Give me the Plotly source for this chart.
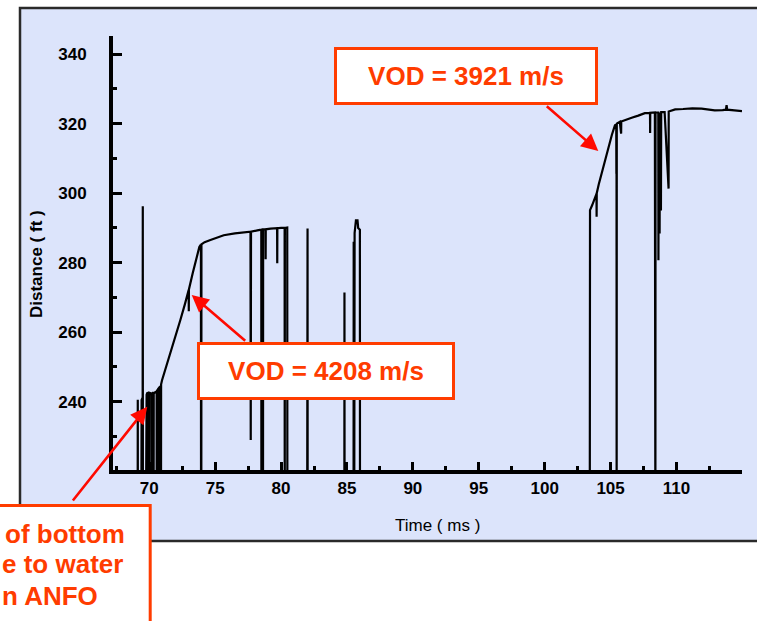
import plotly.graph_objects as go

# ---------------- data ----------------
BOT = 200.0  # signal dropout (below the visible range)

time_ms = [
    68.90, 69.12, 69.13, 69.14,
    69.40, 69.42, 69.50, 69.51, 69.52,
    69.74, 69.75, 69.80, 69.86, 69.87, 69.88, 69.95, 70.01, 70.02, 70.03,
    70.10, 70.20, 70.21, 70.22, 70.32, 70.33, 70.34, 70.45, 70.56, 70.57,
    70.58, 70.70, 70.71, 70.72, 70.81, 70.82, 70.83, 70.88, 70.89, 70.90,
    70.97, 71.20, 71.50, 71.85, 72.10, 72.36, 72.70, 72.99, 73.00, 73.01,
    73.30, 73.63, 73.80, 73.88, 73.92, 73.93, 73.95, 73.96,
    74.20, 74.64, 75.20, 75.65, 76.50, 77.20, 77.68, 77.70, 77.72,
    78.20, 78.50, 78.51, 78.55, 78.56, 78.62, 78.63, 78.64,
    78.82, 78.83, 78.84, 79.20, 79.70, 79.71, 79.72, 80.00,
    80.27, 80.28, 80.29, 80.47, 80.48,
    81.98, 81.99, 82.01, 82.02,
    84.80, 84.81, 84.82,
    85.50, 85.51, 85.52, 85.55, 85.58, 85.68, 85.80, 85.85, 85.98, 85.99,
    103.42, 103.44, 103.60, 103.82, 103.93, 103.94, 103.95,
    104.10, 104.32, 104.60, 104.83, 105.10, 105.33,
    105.43, 105.44, 105.45, 105.46, 105.47, 105.70, 105.80, 105.81,
    106.20, 106.60, 107.10, 107.60, 107.99, 108.00, 108.01,
    108.36, 108.37, 108.40, 108.41, 108.62, 108.63, 108.65, 108.72, 108.74,
    108.82, 108.84, 109.10, 109.40, 109.41, 109.90, 110.50, 111.20,
    111.90, 112.40, 112.90, 113.50, 113.75, 113.80, 113.85, 114.40, 114.97,
]

distance_ft = [
    BOT, BOT, 240.6, BOT,
    BOT, 240.5, 241.2, 296.2, BOT,
    BOT, 241.5, 242.0, 242.6, BOT, 242.7, 242.5, 242.8, BOT, 242.6,
    242.2, 242.4, BOT, 242.3, 242.5, BOT, 242.4, 242.7, 243.0, BOT,
    243.1, 243.8, BOT, 243.9, 244.3, BOT, 244.2, 244.6, BOT, 245.0,
    246.2, 249.0, 252.5, 256.8, 260.0, 263.5, 268.0, 272.1, 266.0, 272.3,
    277.0, 282.6, 284.5, 285.0, 285.0, BOT, BOT, 285.3,
    285.9, 286.5, 287.3, 287.9, 288.4, 288.7, 288.9, 229.0, 288.9,
    289.3, 289.5, BOT, BOT, 289.5, 289.5, BOT, 289.6,
    289.6, 281.0, 289.6, 289.8, 289.9, 279.8, 289.9, 290.0,
    290.0, BOT, 290.0, 290.1, BOT,
    BOT, 289.8, 289.8, BOT,
    BOT, 271.4, BOT,
    BOT, 286.0, BOT, BOT, 288.5, 292.2, 292.2, 290.0, 289.5, BOT,
    BOT, 295.1, 296.5, 298.9, 299.8, 293.2, 300.0,
    302.5, 305.6, 309.5, 313.3, 316.8, 319.5,
    319.7, 305.6, 319.8, BOT, 320.0, 320.5, 317.1, 320.6,
    321.2, 321.7, 322.3, 323.0, 323.1, 317.3, 323.1,
    323.2, BOT, BOT, 323.2, 323.2, 280.7, 323.2, 288.4, 323.2,
    295.0, 323.3, 323.3, 301.3, 323.5, 324.1, 324.2, 324.4,
    324.3, 324.0, 323.8, 323.9, 324.0, 325.3, 324.0, 323.8, 323.6,
]

x_tick_vals = [70, 75, 80, 85, 90, 95, 100, 105, 110]
y_tick_vals = [240, 260, 280, 300, 320, 340]
x_range = [67.25, 114.97]
y_range = [220.36, 345.2]

vod_labels = ["VOD = 3921 m/s", "VOD = 4208 m/s"]
note_lines = ["of bottom", "e to water", "n ANFO"]

# ---------------- layout helpers (pixel -> paper) ----------------
W, H = 757, 621
L, R, T, B = 113, 15, 36, 151
PW, PH = W - L - R, H - T - B


def px(xp):
    return (xp - L) / PW


def py(yp):
    return (T + PH - yp) / PH


FONT = "Liberation Sans, Arial, sans-serif"
ORANGE = "#FF3C00"
RED = "#FF0A00"
PANEL = "#DCE4FB"

fig = go.Figure()
fig.add_trace(go.Scatter(
    x=time_ms, y=distance_ft, mode="lines",
    line=dict(color="black", width=2.2),
    hoverinfo="skip", showlegend=False,
))

shapes = [
    # light-blue panel with dark frame
    dict(type="rect", xref="paper", yref="paper", layer="below",
         x0=px(20), x1=px(800), y0=py(541), y1=py(8),
         fillcolor=PANEL, line=dict(color="#2a2a2a", width=2.5)),
    # bottom-left callout box (partly outside the picture)
    dict(type="rect", xref="paper", yref="paper", layer="above",
         x0=px(-60), x1=px(150.2), y0=py(700), y1=py(505.5),
         fillcolor="white", line=dict(color=ORANGE, width=3)),
]

annotations = [
    # arrows
    dict(xref="paper", yref="paper", x=px(598.3), y=py(151), ax=-53, ay=-46,
         text="", showarrow=True, arrowhead=2, arrowsize=1.3, arrowwidth=2.6,
         arrowcolor=RED, standoff=0),
    dict(xref="paper", yref="paper", x=px(191.7), y=py(295), ax=55, ay=47,
         text="", showarrow=True, arrowhead=2, arrowsize=1.3, arrowwidth=2.6,
         arrowcolor=RED, standoff=0),
    dict(xref="paper", yref="paper", x=px(147.3), y=py(406.7), ax=-75.6, ay=95.3,
         text="", showarrow=True, arrowhead=2, arrowsize=1.3, arrowwidth=2.6,
         arrowcolor=RED, standoff=0),
    # boxes
    dict(xref="paper", yref="paper", x=px(465.5), y=py(76.2),
         xanchor="center", yanchor="middle", text=vod_labels[0], showarrow=False,
         font=dict(family=FONT, size=26, color=ORANGE, weight="bold"),
         bgcolor="white", bordercolor=ORANGE, borderwidth=3, borderpad=0,
         width=258, height=52),
    dict(xref="paper", yref="paper", x=px(326.3), y=py(370.5),
         xanchor="center", yanchor="middle", text=vod_labels[1], showarrow=False,
         font=dict(family=FONT, size=26, color=ORANGE, weight="bold"),
         bgcolor="white", bordercolor=ORANGE, borderwidth=3, borderpad=0,
         width=252, height=52),
    # axis titles
    dict(xref="paper", yref="paper", x=px(437), y=py(525),
         xanchor="center", yanchor="middle", text="Time ( ms )", showarrow=False,
         font=dict(family=FONT, size=17, color="black")),
    dict(xref="paper", yref="paper", x=px(36), y=py(264),
         xanchor="center", yanchor="middle", text="Distance ( ft )", showarrow=False,
         textangle=-90, font=dict(family=FONT, size=17, color="black", weight="bold")),
]

for line, xl, yc in zip(note_lines, [4, 1, 1], [534, 564, 596]):
    annotations.append(dict(
        xref="paper", yref="paper", x=px(xl), y=py(yc), xanchor="left",
        yanchor="middle", text=line, showarrow=False, borderpad=0,
        font=dict(family=FONT, size=26, color=ORANGE, weight="bold")))

fig.update_layout(
    width=W, height=H,
    margin=dict(l=L, r=R, t=T, b=B, pad=0),
    paper_bgcolor="white", plot_bgcolor="rgba(0,0,0,0)",
    shapes=shapes, annotations=annotations, showlegend=False,
    xaxis=dict(range=x_range, tickmode="array", tickvals=x_tick_vals,
               showline=True, linecolor="black", linewidth=4,
               ticks="inside", ticklen=8, tickwidth=3, tickcolor="black",
               minor=dict(ticks="inside", ticklen=4, tickwidth=3,
                          tickcolor="black", dtick=2.5, tick0=67.5),
               showgrid=False, zeroline=False,
               tickfont=dict(family=FONT, size=17, color="black", weight="bold")),
    yaxis=dict(range=y_range, tickmode="array", tickvals=y_tick_vals,
               showline=True, linecolor="black", linewidth=4,
               ticks="inside", ticklen=9, tickwidth=3, tickcolor="black",
               ticklabelstandoff=19,
               minor=dict(ticks="inside", ticklen=4, tickwidth=3,
                          tickcolor="black", dtick=10, tick0=230),
               showgrid=False, zeroline=False,
               tickfont=dict(family=FONT, size=17, color="black", weight="bold")),
)

fig.write_html("out.html")
